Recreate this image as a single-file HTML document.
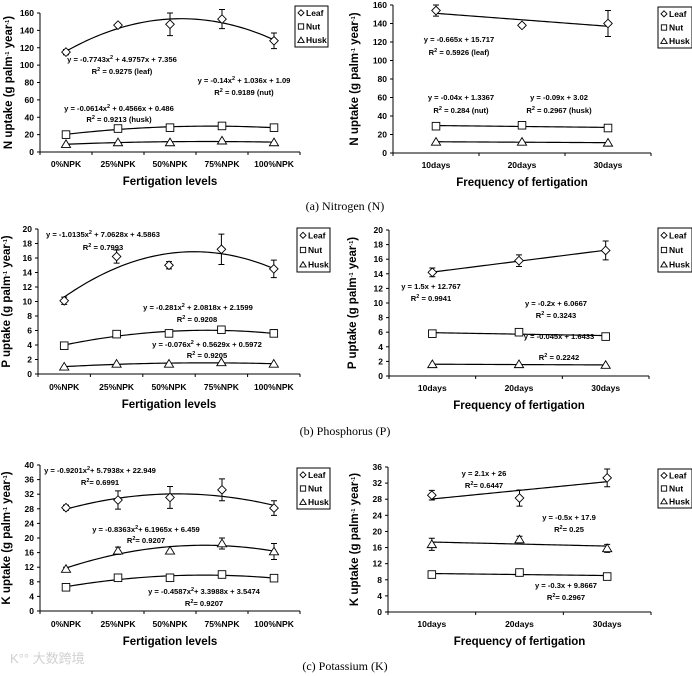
<!DOCTYPE html>
<html><head><meta charset="utf-8"><style>
html,body{margin:0;padding:0;background:#fff;}
svg{display:block;font-family:"Liberation Sans",Arial,sans-serif;}
.t{font-weight:bold;font-size:8.5px;fill:#000;}
.eq{font-weight:bold;font-size:7.6px;fill:#000;}
.ttl{font-weight:bold;font-size:11.5px;fill:#000;}
.cap{font-family:"Liberation Serif",serif;font-size:12px;fill:#000;}
</style></head><body>
<svg id="fig" width="692" height="676" viewBox="0 0 692 676" xmlns="http://www.w3.org/2000/svg"></svg>
<script>
// ---- data ----
const levelCats = ["0%NPK","25%NPK","50%NPK","75%NPK","100%NPK"];
const freqCats = ["10days","20days","30days"];
const nLevelLeaf = [115,146,147,153,128];
const nLevelLeafErr = [3,2,13,11,9];
const nLevelNut = [20,27,28,30,28];
const nLevelHusk = [9,11,11,13,11];
const nFreqLeaf = [154,138,140];
const nFreqLeafErr = [6,2,14];
const nFreqNut = [29,30,27];
const nFreqHusk = [12,12,11];
const pLevelLeaf = [10.1,16.2,15.0,17.2,14.5];
const pLevelLeafErr = [0.5,0.9,0.5,2.1,1.2];
const pLevelNut = [3.9,5.5,5.6,6.1,5.6];
const pLevelNutErr = [0,0,0,0,0.5];
const pLevelHusk = [1.0,1.4,1.4,1.6,1.4];
const pFreqLeaf = [14.2,15.8,17.2];
const pFreqLeafErr = [0.6,0.8,1.3];
const pFreqNut = [5.8,6.0,5.4];
const pFreqHusk = [1.6,1.6,1.5];
const kLevelLeaf = [28.3,30.4,31.1,33.2,28.2];
const kLevelLeafErr = [0.7,2.5,3,3,2];
const kLevelHusk = [11.5,16.5,16.5,18.5,16.3];
const kLevelHuskErr = [0.5,1,0,1.5,2.2];
const kLevelNut = [6.5,9.1,9.1,10.0,9.0];
const kLevelNutErr = [0,0,0,0,0.8];
const kFreqLeaf = [29.0,28.3,33.3];
const kFreqLeafErr = [1.2,2.0,2.2];
const kFreqHusk = [16.8,18.0,15.8];
const kFreqHuskErr = [1.5,0.8,1.0];
const kFreqNut = [9.3,9.8,8.8];
const nTicks = [0,20,40,60,80,100,120,140,160];
const pTicks = [0,2,4,6,8,10,12,14,16,18,20];
const kLevelTicks = [0,4,8,12,16,20,24,28,32,36,40];
const kFreqTicks = [0,4,8,12,16,20,24,28,32,36];

const NS="http://www.w3.org/2000/svg";
const svg=document.getElementById('fig');
function mk(tag,attrs,parent){const e=document.createElementNS(NS,tag);for(const k in attrs)e.setAttribute(k,attrs[k]);(parent||svg).appendChild(e);return e;}

function fit(ys,deg){
  const n=ys.length,xs=ys.map((_,i)=>i+1);
  if(deg===1){const mx=xs.reduce((a,b)=>a+b)/n,my=ys.reduce((a,b)=>a+b)/n;let sxy=0,sxx=0;for(let i=0;i<n;i++){sxy+=(xs[i]-mx)*(ys[i]-my);sxx+=(xs[i]-mx)**2;}const b=sxy/sxx;return x=>my+b*(x-mx);}
  let S=[0,0,0,0,0],T=[0,0,0];
  for(let i=0;i<n;i++){for(let p=0;p<5;p++)S[p]+=xs[i]**p;for(let p=0;p<3;p++)T[p]+=ys[i]*xs[i]**p;}
  const M=[[S[0],S[1],S[2],T[0]],[S[1],S[2],S[3],T[1]],[S[2],S[3],S[4],T[2]]];
  for(let c=0;c<3;c++){for(let r=c+1;r<3;r++){const f=M[r][c]/M[c][c];for(let k=c;k<4;k++)M[r][k]-=f*M[c][k];}}
  const co=[0,0,0];for(let r=2;r>=0;r--){let s=M[r][3];for(let k=r+1;k<3;k++)s-=M[r][k]*co[k];co[r]=s/M[r][r];}
  return x=>co[0]+co[1]*x+co[2]*x*x;
}

function marker(g,type,x,y,sc){
  sc=sc||1;
  const a={fill:'#fff',stroke:'#000','stroke-width':0.9};
  const r=4.3*sc;
  let e;
  if(type==='leaf'){e=mk('polygon',Object.assign({points:`${x},${y-r} ${x+r},${y} ${x},${y+r} ${x-r},${y}`},a),g);}
  else if(type==='nut'){e=mk('rect',Object.assign({x:x-3.8*sc,y:y-3.8*sc,width:7.6*sc,height:7.6*sc},a),g);}
  else {e=mk('polygon',Object.assign({points:`${x},${y-r} ${x+4.6*sc},${y+3.3*sc} ${x-4.6*sc},${y+3.3*sc}`},a),g);}
  return e;
}

function sup(t,parts){
  parts.forEach(p=>{const s=mk('tspan',{},t);s.textContent=p[0];if(p[1]){s.setAttribute('baseline-shift','super');s.setAttribute('font-size','5.5px');}});
}
function eqText(g,x,y,str){
  const t=mk('text',{x:x,y:y,'text-anchor':'middle',class:'eq'},g);
  
  
  const bits=str.split('^');const parts=[];
  bits.forEach((b,i)=>{if(i===0){parts.push([b,false]);}else{parts.push([b[0],true]);parts.push([b.slice(1),false]);}});
  sup(t,parts);
}

function panel(cfg){
  const g=mk('g',{});
  
  
  const n=cfg.cats.length, x0=cfg.x0, x1=cfg.x1, y0=cfg.y0, yT=cfg.yT;
  const step=(x1-x0)/n;
  const X=i=>x0+step*(i+0.5);
  const Xf=v=>x0+step*(v-0.5);
  const ymax=cfg.ticks[cfg.ticks.length-1];
  const Y=v=>y0-(v/ymax)*(y0-yT);
  const ax=mk('path',{d:`M${x0},${yT} L${x0},${y0} L${x1},${y0}`,fill:'none',stroke:'#000','stroke-width':1},g);
  
  
  cfg.ticks.forEach(v=>{
    mk('line',{x1:x0-3,x2:x0,y1:Y(v),y2:Y(v),stroke:'#000','stroke-width':1},g);
    const t=mk('text',{x:x0-6,y:Y(v)+3,'text-anchor':'end',class:'t'},g);
    
    
    t.textContent=v;
  });
  for(let i=0;i<=n;i++)mk('line',{x1:x0+step*i,x2:x0+step*i,y1:y0,y2:y0+3,stroke:'#000','stroke-width':1},g);
  cfg.cats.forEach((c,i)=>{
    const t=mk('text',{x:X(i),y:cfg.labY,'text-anchor':'middle',class:'t'},g);
    
    
    t.textContent=c;
  });
  const xt=mk('text',{x:(x0+x1)/2,y:cfg.titY,'text-anchor':'middle',class:'ttl'},g);
  
  
  xt.textContent=cfg.xtitle;
  const cy=(y0+yT)/2;
  const yt=mk('text',{x:cfg.ytX,y:cy,'text-anchor':'middle',class:'ttl',transform:`rotate(-90 ${cfg.ytX} ${cy})`},g);
  
  
  sup(yt,[[cfg.el+' uptake (g palm',false],['-1',true],[' year',false],['-1',true],[')',false]]);
  cfg.series.forEach(s=>{
    const f=fit(s.data,cfg.deg);
    let d='';const N=60;
    for(let k=0;k<=N;k++){const v=1+(n-1)*k/N;d+=(k?'L':'M')+Xf(v).toFixed(2)+','+Y(f(v)).toFixed(2);}
    const tl=mk('path',{d:d,fill:'none',stroke:'#000','stroke-width':1.2},g);
    
    
    s.data.forEach((v,i)=>{
      const e=s.err?s.err[i]:0;
      if(e>0){
        const eb=mk('path',{d:`M${X(i)},${Y(v+e)} L${X(i)},${Y(v-e)} M${X(i)-3},${Y(v+e)} L${X(i)+3},${Y(v+e)} M${X(i)-3},${Y(v-e)} L${X(i)+3},${Y(v-e)}`,stroke:'#000','stroke-width':1,fill:'none'},g);
        
        
      }
      const m=marker(g,s.type,X(i),Y(v));
      
      
    });
  });
  const L=cfg.leg;
  const lg=mk('g',{},g);
  
  
  mk('rect',{x:L[0],y:L[1],width:L[2],height:L[3],fill:'#fff',stroke:'#000','stroke-width':1},lg);
  [['leaf','Leaf'],['nut','Nut'],['husk','Husk']].forEach((p,i)=>{
    const yy=L[1]+L[3]*(i+0.5)/3;
    marker(lg,p[0],L[0]+6,yy,0.7);
    const t=mk('text',{x:L[0]+11,y:yy+3,class:'t'},lg);
    
    
    t.textContent=p[1];
  });
  cfg.eqs.forEach(e=>eqText(g,e[0],e[1],e[2]));
}

panel({name:'n-levels-chart',el:'N',cats:levelCats,deg:2,x0:40,x1:300,y0:152,yT:13,ticks:nTicks,labY:167,titY:185,ytX:12,xtitle:'Fertigation levels',
  series:[{type:'leaf',data:nLevelLeaf,err:nLevelLeafErr},{type:'nut',data:nLevelNut},{type:'husk',data:nLevelHusk}],
  leg:[295,6,33,41],
  eqs:[[122,62,'y = -0.7743x^2 + 4.9757x + 7.356'],[122,74,'R^2 = 0.9275 (leaf)'],[244,83,'y = -0.14x^2 + 1.036x + 1.09'],[244,95,'R^2 = 0.9189 (nut)'],[119,111,'y = -0.0614x^2 + 0.4566x + 0.486'],[119,122,'R^2 = 0.9213 (husk)']]});
panel({name:'n-frequency-chart',el:'N',cats:freqCats,deg:1,x0:393,x1:651,y0:153,yT:5,ticks:nTicks,labY:168,titY:186,ytX:358,xtitle:'Frequency of fertigation',
  series:[{type:'leaf',data:nFreqLeaf,err:nFreqLeafErr},{type:'nut',data:nFreqNut},{type:'husk',data:nFreqHusk}],
  leg:[658,7,34,41],
  eqs:[[459,42,'y = -0.665x + 15.717'],[459,55,'R^2 = 0.5926 (leaf)'],[461,100,'y = -0.04x + 1.3367'],[461,113,'R^2 = 0.284 (nut)'],[559,100,'y = -0.09x + 3.02'],[559,113,'R^2 = 0.2967 (husk)']]});
panel({name:'p-levels-chart',el:'P',cats:levelCats,deg:2,x0:38,x1:300,y0:374,yT:229,ticks:pTicks,labY:390,titY:408,ytX:10,xtitle:'Fertigation levels',
  series:[{type:'leaf',data:pLevelLeaf,err:pLevelLeafErr},{type:'nut',data:pLevelNut,err:pLevelNutErr},{type:'husk',data:pLevelHusk}],
  leg:[297,228,33,44],
  eqs:[[103,237,'y = -1.0135x^2 + 7.0628x + 4.5863'],[103,250,'R^2 = 0.7993'],[198,310,'y = -0.281x^2 + 2.0818x + 2.1599'],[197,322,'R^2 = 0.9208'],[207,347,'y = -0.076x^2 + 0.5629x + 0.5972'],[207,358,'R^2 = 0.9205']]});
panel({name:'p-frequency-chart',el:'P',cats:freqCats,deg:1,x0:389,x1:649,y0:376,yT:230,ticks:pTicks,labY:391,titY:409,ytX:356,xtitle:'Frequency of fertigation',
  series:[{type:'leaf',data:pFreqLeaf,err:pFreqLeafErr},{type:'nut',data:pFreqNut},{type:'husk',data:pFreqHusk}],
  leg:[658,228,34,44],
  eqs:[[431,289,'y = 1.5x + 12.767'],[431,301,'R^2 = 0.9941'],[556,306,'y = -0.2x + 6.0667'],[556,318,'R^2 = 0.3243'],[559,339,'y = -0.045x + 1.6433'],[559,360,'R^2 = 0.2242']]});
panel({name:'k-levels-chart',el:'K',cats:levelCats,deg:2,x0:40,x1:300,y0:611,yT:465,ticks:kLevelTicks,labY:627,titY:645,ytX:10,xtitle:'Fertigation levels',
  series:[{type:'leaf',data:kLevelLeaf,err:kLevelLeafErr},{type:'husk',data:kLevelHusk,err:kLevelHuskErr},{type:'nut',data:kLevelNut,err:kLevelNutErr}],
  leg:[297,468,33,41],
  eqs:[[100,473,'y = -0.9201x^2+ 5.7938x + 22.949'],[100,485,'R^2= 0.6991'],[146,532,'y = -0.8363x^2+ 6.1965x + 6.459'],[146,543,'R^2= 0.9207'],[204,594,'y = -0.4587x^2+ 3.3988x + 3.5474'],[204,606,'R^2= 0.9207']]});
panel({name:'k-frequency-chart',el:'K',cats:freqCats,deg:1,x0:388,x1:651,y0:612,yT:467,ticks:kFreqTicks,labY:627,titY:645,ytX:358,xtitle:'Frequency of fertigation',
  series:[{type:'leaf',data:kFreqLeaf,err:kFreqLeafErr},{type:'husk',data:kFreqHusk,err:kFreqHuskErr},{type:'nut',data:kFreqNut}],
  leg:[658,469,34,39],
  eqs:[[484,476,'y = 2.1x + 26'],[484,488,'R^2= 0.6447'],[569,520,'y = -0.5x + 17.9'],[569,532,'R^2= 0.25'],[566,588,'y = -0.3x + 9.8667'],[566,600,'R^2= 0.2967']]});

[['(a) Nitrogen (N)',210,'caption-nitrogen'],['(b) Phosphorus (P)',435,'caption-phosphorus'],['(c) Potassium (K)',670,'caption-potassium']].forEach(c=>{
  const t=mk('text',{x:345,y:c[1],'text-anchor':'middle',class:'cap'});
  
  
  t.textContent=c[0];
});
const wm=mk('text',{x:10,y:663,'font-size':'13px',fill:'#d0d0d0','font-family':'"Liberation Sans","Noto Sans CJK SC",sans-serif'});


wm.textContent='K°° 大数跨境';
</script>
</body></html>
